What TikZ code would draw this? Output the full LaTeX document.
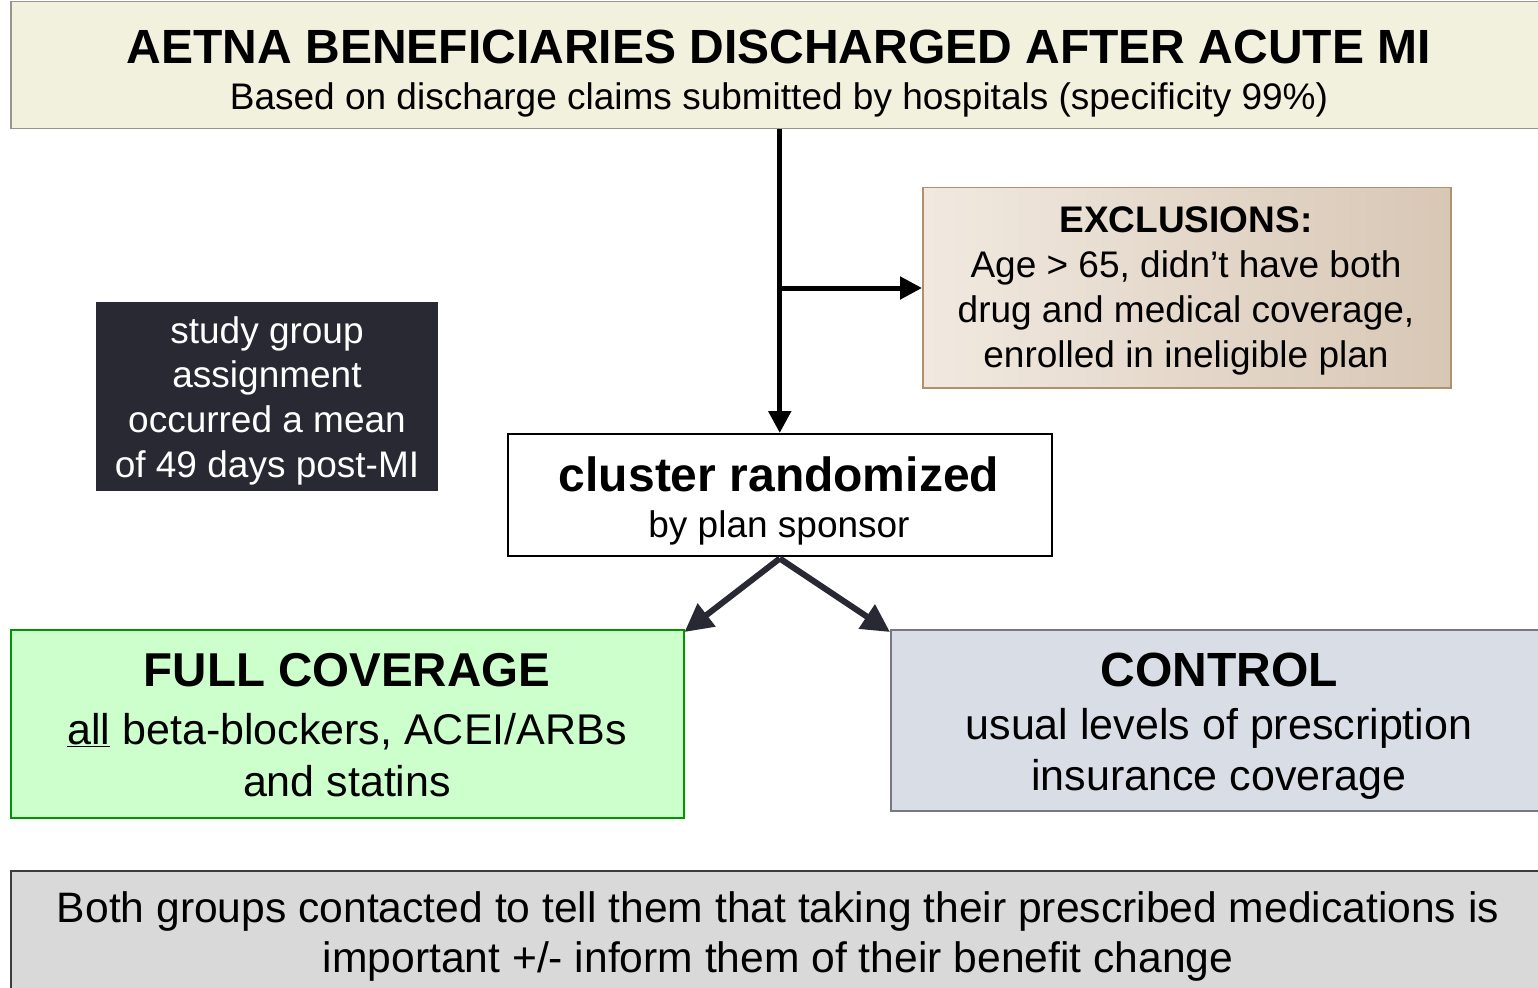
\documentclass[tikz,border=0pt]{standalone}
\usepackage{fontspec}
\setmainfont{Liberation Sans}
\usetikzlibrary{arrows.meta}
\definecolor{topfill}{RGB}{242,241,221}
\definecolor{topline}{RGB}{150,150,140}
\definecolor{exlight}{RGB}{241,233,224}
\definecolor{exdark}{RGB}{216,199,181}
\definecolor{exline}{RGB}{176,145,110}
\definecolor{darkbox}{RGB}{41,41,52}
\definecolor{greenfill}{RGB}{204,255,204}
\definecolor{greenline}{RGB}{0,150,0}
\definecolor{ctrlfill}{RGB}{217,221,229}
\definecolor{ctrlline}{RGB}{120,120,130}
\definecolor{botfill}{RGB}{217,217,217}
\definecolor{botline}{RGB}{60,60,60}
\newcommand{\fs}[2]{\fontsize{#1}{#2}\selectfont}
\tikzset{
  boxbase/.style={rectangle, inner sep=0pt, line width=1.5pt, anchor=north west},
  txt/.style={inner sep=0pt, align=center, anchor=north, text=black},
  blackarrow/.style={line width=5pt, black, -{Triangle[length=22pt,width=22pt]}},
  splitarrow/.style={line width=6pt, darkbox, -{Triangle[length=28pt,width=28pt]}},
}
\begin{document}
\begin{tikzpicture}[x=1pt,y=-1pt]
\useasboundingbox (0,0) rectangle (1538,987);
% boxes
\node[boxbase, fill=topfill, draw=topline, minimum width=1540pt, minimum height=127pt] (top) at (10,1) {};
\node[boxbase, left color=exlight, right color=exdark, draw=exline, minimum width=528pt, minimum height=200pt] (excl) at (922,187) {};
\node[boxbase, fill=darkbox, draw=none, minimum width=342pt, minimum height=189pt] (study) at (95,301) {};
\node[boxbase, fill=white, draw=black, minimum width=544pt, minimum height=122pt] (cluster) at (507,433) {};
\node[boxbase, fill=greenfill, draw=greenline, minimum width=673pt, minimum height=188pt] (full) at (10,629) {};
\node[boxbase, fill=ctrlfill, draw=ctrlline, minimum width=660pt, minimum height=181pt] (ctrl) at (890,629) {};
\node[boxbase, fill=botfill, draw=botline, minimum width=1540pt, minimum height=130pt] (bot) at (10,870) {};
% texts
\node[txt, font=\fs{37}{46}] (topT) at (779,29.6)
  {{\fs{48}{46}\bfseries AETNA BENEFICIARIES DISCHARGED AFTER ACUTE MI}\\
   Based on discharge claims submitted by hospitals (specificity 99\%)};
\node[txt, font=\fs{37}{45}] (exclT) at (1186,206.5)
  {\textbf{EXCLUSIONS:}\\
   Age > 65, didn’t have both\\
   drug and medical coverage,\\
   enrolled in ineligible plan};
\node[txt, font=\fs{37}{44.7}, text=white] (studyT) at (267,316)
  {study group\\assignment\\occurred a mean\\of 49 days post-MI};
\node[txt, font=\fs{37}{46}] (clusterT) at (779,457)
  {{\fs{48}{46}\bfseries cluster randomized}\\
   by plan sponsor};
\node[txt, font=\fs{43}{52}] (fullT) at (347,653)
  {{\fs{47.5}{52}\bfseries FULL COVERAGE}\\[6pt]
   \underline{all} beta-blockers, ACEI/ARBs\\
   and statins};
\node[txt, font=\fs{43}{51}] (ctrlT) at (1219,652.6)
  {{\fs{48}{51}\bfseries CONTROL}\\[2pt]
   usual levels of prescription\\
   insurance coverage};
\node[txt, font=\fs{42.6}{50}] (botT) at (778,891)
  {Both groups contacted to tell them that taking their prescribed medications is\\
   important +/- inform them of their benefit change};
% arrows
\coordinate (br) at (779,288);
\draw[blackarrow] (top.south -| cluster.north) -- (cluster.north);
\draw[blackarrow] (br) -- (excl.west |- br);
\draw[splitarrow] ([yshift=-2pt]cluster.south) -- ([yshift=-3pt]full.north east);
\draw[splitarrow] ([yshift=-2pt]cluster.south) -- ([yshift=-3pt]ctrl.north west);
\end{tikzpicture}
\end{document}
